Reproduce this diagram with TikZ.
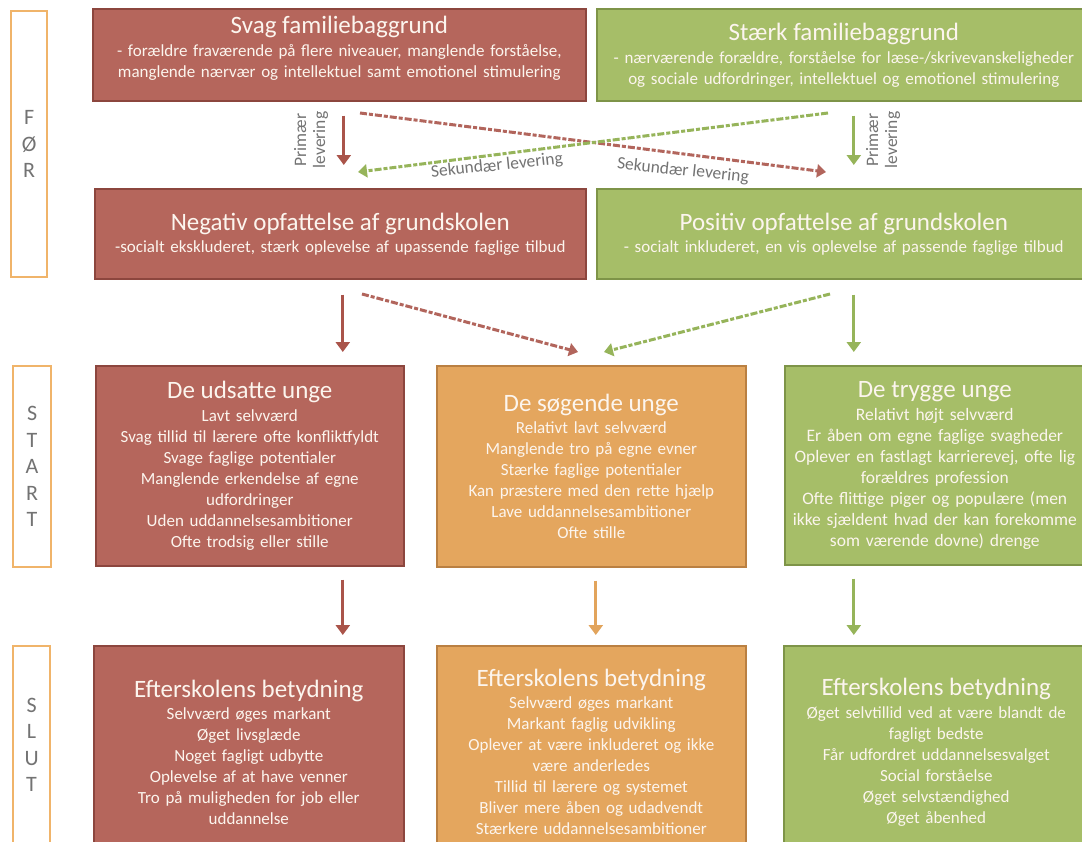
\documentclass[tikz,border=0pt]{standalone}
\usepackage{fontspec}
\setmainfont{Carlito}
\usetikzlibrary{positioning,arrows.meta}

\definecolor{svagred}{RGB}{181,102,92}
\definecolor{svagline}{RGB}{140,70,62}
\definecolor{staerkgreen}{RGB}{166,190,104}
\definecolor{staerkline}{RGB}{126,148,72}
\definecolor{soegorange}{RGB}{228,166,94}
\definecolor{soegline}{RGB}{186,128,66}
\definecolor{phaseline}{RGB}{240,180,106}
\definecolor{phasetext}{RGB}{115,115,115}
\definecolor{boxtext}{RGB}{252,245,238}
\definecolor{arrowred}{RGB}{170,84,74}
\definecolor{arrowgreen}{RGB}{150,180,90}
\definecolor{arroworange}{RGB}{226,164,92}

\newcommand{\boxtitle}[1]{{\fontsize{25}{26}\selectfont #1}}

\begin{document}
\begin{tikzpicture}[
  x=1pt, y=-1pt,
  box/.style={
    draw,
    line width=1.6pt,
    anchor=north west,
    inner xsep=2pt,
    align=center,
    text=boxtext,
    font=\fontsize{17}{21}\selectfont
  },
  redbox/.style={box, fill=svagred, draw=svagline},
  greenbox/.style={box, fill=staerkgreen, draw=staerkline},
  orangebox/.style={box, fill=soegorange, draw=soegline},
  phasebox/.style={
    draw=phaseline,
    line width=2.2pt,
    fill=white,
    anchor=north west,
    align=center,
    text=phasetext,
    font=\fontsize{22}{26.5}\selectfont
  },
  primary/.style={line width=3pt, -{Triangle[length=10pt,width=14pt]}},
  secondary/.style={
    line width=3pt,
    dash pattern=on 7pt off 2pt on 4pt off 2pt,
    -{Triangle[length=9pt,width=13pt]}
  },
  arrowlabel/.style={text=phasetext, align=center, font=\fontsize{17.5}{19}\selectfont}
]
\clip (0,0) rectangle (1082,841);
\fill[white] (0,0) rectangle (1082,841);

% phases
\node[phasebox, minimum width=36pt, minimum height=266pt] (foer) at (10,10) {F\\Ø\\R};
\node[phasebox, minimum width=38pt, minimum height=201pt] (start) at (12,365) {S\\T\\A\\R\\T};
\node[phasebox, minimum width=37pt, minimum height=198pt] (slut) at (12,645) {S\\L\\U\\T};

% family background
\node[redbox, minimum width=493pt, minimum height=92pt, text width=486pt, text depth=60pt] (svag) at (92,8)
  {\boxtitle{Svag familiebaggrund}\\[2pt]
   - forældre fraværende på flere niveauer, manglende forståelse,\\
   manglende nærvær og intellektuel samt emotionel stimulering};
\node[greenbox, minimum width=494pt, minimum height=92pt, text width=486pt] (staerk) at (596,8)
  {\boxtitle{Stærk familiebaggrund}\\[2pt]
   - nærværende forældre, forståelse for læse-/skrivevanskeligheder\\
   og sociale udfordringer, intellektuel og emotionel stimulering};

% primary school
\node[redbox, minimum width=491pt, minimum height=90pt, text width=484pt] (negativ) at (94,188)
  {\boxtitle{Negativ opfattelse af grundskolen}\\[1pt]
   -socialt ekskluderet, stærk oplevelse af upassende faglige tilbud};
\node[greenbox, minimum width=494pt, minimum height=90pt, text width=486pt] (positiv) at (596,188)
  {\boxtitle{Positiv opfattelse af grundskolen}\\[1pt]
   - socialt inkluderet, en vis oplevelse af passende faglige tilbud};

% start
\node[redbox, minimum width=308pt, minimum height=200pt, text width=302pt] (udsatte) at (95,365)
  {\boxtitle{De udsatte unge}\\[2pt]
   Lavt selvværd\\
   Svag tillid til lærere ofte konfliktfyldt\\
   Svage faglige potentialer\\
   Manglende erkendelse af egne\\
   udfordringer\\
   Uden uddannelsesambitioner\\
   Ofte trodsig eller stille};
\node[orangebox, minimum width=309pt, minimum height=201pt, text width=303pt] (soegende) at (436,365)
  {\boxtitle{De søgende unge}\\[1pt]
   Relativt lavt selvværd\\
   Manglende tro på egne evner\\
   Stærke faglige potentialer\\
   Kan præstere med den rette hjælp\\
   Lave uddannelsesambitioner\\
   Ofte stille};
\node[greenbox, minimum width=300pt, minimum height=199pt, text width=292pt, font=\fontsize{17.5}{21}\selectfont] (trygge) at (784,365)
  {\boxtitle{De trygge unge}\\[2pt]
   Relativt højt selvværd\\
   Er åben om egne faglige svagheder\\
   Oplever en fastlagt karrierevej, ofte lig\\
   forældres profession\\
   Ofte flittige piger og populære (men\\
   ikke sjældent hvad der kan forekomme\\
   som værende dovne) drenge};

% slut
\node[redbox, minimum width=310pt, minimum height=213pt, text width=304pt] (slutred) at (93,645)
  {\boxtitle{Efterskolens betydning}\\[1pt]
   Selvværd øges markant\\
   Øget livsglæde\\
   Noget fagligt udbytte\\
   Oplevelse af at have venner\\
   Tro på muligheden for job eller\\
   uddannelse};
\node[orangebox, minimum width=309pt, minimum height=213pt, text width=303pt] (slutorange) at (436,645)
  {\boxtitle{Efterskolens betydning}\\[1pt]
   Selvværd øges markant\\
   Markant faglig udvikling\\
   Oplever at være inkluderet og ikke\\
   være anderledes\\
   Tillid til lærere og systemet\\
   Bliver mere åben og udadvendt\\
   Stærkere uddannelsesambitioner};
\node[greenbox, minimum width=305pt, minimum height=213pt, text width=297pt] (slutgreen) at (783,645)
  {\boxtitle{Efterskolens betydning}\\[2pt]
   Øget selvtillid ved at være blandt de\\
   fagligt bedste\\
   Får udfordret uddannelsesvalget\\
   Social forståelse\\
   Øget selvstændighed\\
   Øget åbenhed};

% secondary arrow ends
\coordinate (sek1a) at (360,113);
\coordinate (sek1b) at (826,172);
\coordinate (sek2a) at (828,113);
\coordinate (sek2b) at (358,172);
\coordinate (sek3a) at (362,294);
\coordinate (sek3b) at (578,352);
\coordinate (sek4a) at (830,294);
\coordinate (sek4b) at (604,352);

% primary arrows
\draw[primary, arrowred, shorten <=14pt, shorten >=23pt] ([xshift=4.5pt]svag.south) -- ([xshift=4.5pt]svag.south |- negativ.north);
\draw[primary, arrowgreen, shorten <=14pt, shorten >=23pt] ([xshift=10pt]staerk.south) -- ([xshift=10pt]staerk.south |- positiv.north);
\draw[primary, arrowred, shorten <=15pt, shorten >=13pt] ([xshift=2.5pt]negativ.south) -- ([xshift=2.5pt]negativ.south |- udsatte.north);
\draw[primary, arrowgreen, shorten <=15pt, shorten >=13pt] ([xshift=10pt]positiv.south) -- ([xshift=10pt]positiv.south |- trygge.north);
\draw[primary, arrowred, shorten <=13pt, shorten >=10pt] ([xshift=93pt]udsatte.south) -- ([xshift=93pt]udsatte.south |- slutred.north);
\draw[primary, arroworange, shorten <=13pt, shorten >=10pt] ([xshift=4.5pt]soegende.south) -- ([xshift=4.5pt]soegende.south |- slutorange.north);
\draw[primary, arrowgreen, shorten <=13pt, shorten >=10pt] ([xshift=-81pt]trygge.south) -- ([xshift=-81pt]trygge.south |- slutgreen.north);

% secondary arrows
\draw[secondary, arrowred!90!white] (sek1a) -- (sek1b);
\draw[secondary, arrowgreen] (sek2a) -- (sek2b);
\draw[secondary, arrowred!90!white] (sek3a) -- (sek3b);
\draw[secondary, arrowgreen] (sek4a) -- (sek4b);

% labels
\node[arrowlabel, rotate=90] (prim1) at (311,140) {Primær\\levering};
\node[arrowlabel, rotate=90] (prim2) at (883,140) {Primær\\levering};
\node[arrowlabel, rotate=6] (sek1) at (497,166) {Sekundær levering};
\node[arrowlabel, rotate=-6] (sek2) at (683,171) {Sekundær levering};
\end{tikzpicture}
\end{document}
